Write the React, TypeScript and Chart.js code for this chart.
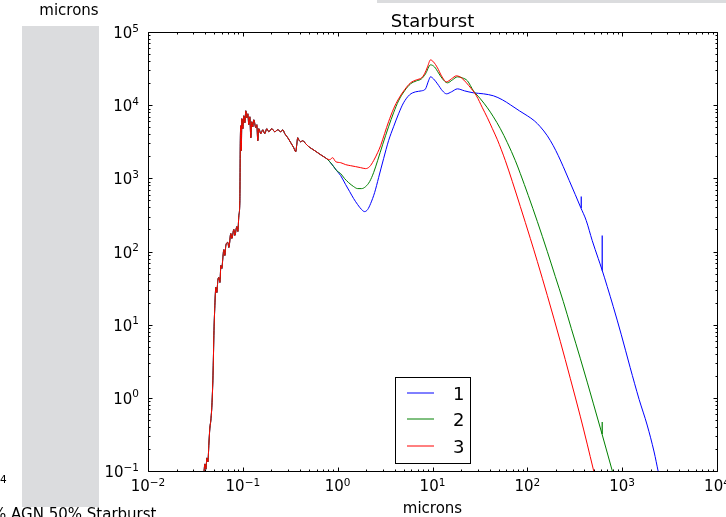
import React, { useEffect, useRef } from 'react';
import { Chart, registerables } from 'chart.js';

Chart.register(...registerables);

// Shared short-wavelength part (all three models coincide here), microns / flux
const uvWave = [
  0.0389, 0.0398, 0.0408, 0.0418, 0.0428, 0.0439, 0.0449, 0.046, 0.0472, 0.0483,
  0.0489, 0.0495, 0.0507, 0.052, 0.0532, 0.0545, 0.0559, 0.0573, 0.0587, 0.0601,
  0.0616, 0.0631, 0.0646, 0.0662, 0.0695, 0.0712, 0.0747, 0.0766, 0.0804, 0.0823,
  0.0865, 0.0886, 0.0908, 0.093, 0.0941, 0.0953, 0.0964, 0.0976, 0.1, 0.1024,
  0.105, 0.1075, 0.1102, 0.1129, 0.1156, 0.1185, 0.1214, 0.1244, 0.1274, 0.1305,
  0.137, 0.1404, 0.1438, 0.1474, 0.1547, 0.1624, 0.1704, 0.1789, 0.1878, 0.202,
  0.2172, 0.2335, 0.2512, 0.2637, 0.2768, 0.2977, 0.3201, 0.3441, 0.3613, 0.3702,
  0.3793, 0.3886, 0.4079, 0.4281, 0.4604, 0.4952, 0.5324, 0.5727, 0.6159, 0.6623,
  0.7122, 0.7659,
];
const uvFlux = [
  0.095, 0.125, 0.106, 0.151, 0.133, 0.241, 0.386, 0.496, 0.794, 1.74,
  3.27, 7.16, 18.4, 32.4, 27.5, 40.3, 44.2, 37.8, 64.5, 58.7,
  82.9, 106, 88.3, 121, 133, 113.5, 176, 151, 200, 166,
  219, 188, 310, 497, 3270, 5240, 2390, 6530, 4770, 7160,
  5750, 8380, 6730, 7620, 5400, 6930, 3590, 5930, 5070, 6310,
  4920, 5400, 3270, 4770, 4080, 4610, 4080, 4770, 4330, 4770,
  4330, 4610, 4330, 4610, 4080, 3590, 3070, 2620, 2310, 2880,
  3590, 3370, 3160, 3270, 2970, 2710, 2540, 2390, 2240, 2100,
  1977, 1857,
];

// Model 1 (blue)
const wave1 = [
  0.8238, 0.9077, 0.9761, 1.0755, 1.214, 1.338, 1.474, 1.624, 1.789, 1.923,
  2.069, 2.226, 2.453, 2.702, 3.05, 3.442, 3.886, 4.387, 4.952, 5.727,
  6.623, 7.659, 8.439, 9.075, 9.527, 10.24, 11.29, 12.74, 14.04, 15.85,
  18.33, 21.72, 27.02, 34.42, 43.87, 54.57, 66.23, 82.38, 100, 118.5,
  137, 162.4, 187.8, 212.1, 239.2, 276.8, 320.1, 365.8, 417.9, 483.3,
  559, 611.4, 695.2, 804.1, 976.1, 1214, 1510, 1834, 2172, 2393,
];
const flux1 = [
  1690, 1445, 1274, 1089, 820, 659, 529, 438, 374, 351,
  374, 452, 638, 1022, 1857, 3270, 5070, 7620, 10770, 13840,
  15210, 15700, 16710, 21500, 24390, 22900, 19560, 15700, 14290, 15210,
  16710, 15700, 14750, 14290, 13430, 11840, 10120, 8380, 7160, 6120,
  5070, 3820, 2790, 2040, 1445, 931, 600, 398, 265, 141,
  80.4, 56.9, 33.3, 17.8, 7.4, 2.6, 0.95, 0.425, 0.182, 0.1,
];

// Model 2 (green)
const wave2 = [
  0.8238, 0.9077, 0.9761, 1.0755, 1.1849, 1.3056, 1.474, 1.624, 1.789, 1.971,
  2.172, 2.393, 2.637, 2.977, 3.442, 3.886, 4.387, 5.073, 5.867, 6.785,
  7.659, 8.439, 9.527, 10.5, 11.57, 12.74, 14.38, 16.24, 18.33, 20.69,
  23.36, 27.02, 32.01, 37.92, 43.87, 51.96, 61.59, 74.75, 84.39, 102.4,
  127.5, 162.4, 197.1, 239.2, 290.5, 361.4, 428.1, 495.2, 600.8, 678.5,
  766.1, 804.1,
];
const flux2 = [
  1690, 1445, 1274, 1160, 990, 873, 771, 724, 724, 771,
  902, 1196, 1743, 2880, 5070, 7870, 11480, 15700, 19560, 21500,
  22900, 26800, 35560, 33340, 27600, 22900, 20190, 22190, 24390, 23600,
  21500, 15700, 12200, 9200, 6930, 4770, 3070, 1743, 1159, 581,
  257, 100, 45.6, 20.8, 8.91, 3.48, 1.64, 0.847, 0.352, 0.2,
  0.1135, 0.0912,
];

// Model 3 (red)
const wave3 = [
  0.8238, 0.886, 0.9527, 1.0755, 1.2138, 1.3704, 1.547, 1.7467, 1.9712, 2.172,
  2.393, 2.637, 2.836, 3.124, 3.442, 3.886, 4.387, 5.073, 5.867, 6.785,
  7.659, 8.238, 8.86, 9.527, 10.24, 11.29, 12.44, 14.04, 15.85, 17.89,
  20.2, 22.8, 25.73, 29.06, 33.6, 37.92, 42.81, 48.32, 58.67, 69.53,
  84.39, 107.5, 127.5, 162.4, 222.5, 283.6, 361.4, 428.1, 495.2, 520.4,
];
const flux3 = [
  1799, 1914, 1690, 1637, 1538, 1489, 1445, 1400, 1358, 1445,
  1743, 2240, 2790, 4080, 5930, 8920, 12200, 16200, 20190, 22190,
  23600, 26800, 33340, 41600, 39000, 32360, 25180, 20830, 22900, 25180,
  23600, 20190, 16710, 13430, 9200, 6730, 4770, 3370, 1743, 901,
  411, 151, 73.1, 25.1, 5.93, 1.85, 0.562, 0.233, 0.1066, 0.083,
];

// Narrow spikes in the model outputs: series index, wavelength, low/high flux
const spikeSeries = [0, 0, 1];
const spikeWave = [370.2, 615.9, 615.9];
const spikeLow = [392, 55, 0.32];
const spikeHigh = [563, 166, 0.466];

const seriesNames = ['1', '2', '3'];
const seriesColors = ['#0000ff', '#008000', '#ff0000'];
const xTickPowers = [-2, -1, 0, 1, 2, 3, 4];
const yTickPowers = [-1, 0, 1, 2, 3, 4, 5];
const titleText = 'Starburst';
const xAxisTitle = 'microns';
const cornerLabel = 'microns';
const bottomCaption = '50% AGN 50% Starburst';
const strayExponent = '4';

const FONT = "'DejaVu Sans', sans-serif";

function toPoints(w: number[], f: number[]) {
  return w.map((x, i) => ({ x, y: f[i] }));
}

const crisp = (v: number) => Math.round(v) + 0.5;

function drawPower(ctx: CanvasRenderingContext2D, p: number, x: number, base: number, supBase: number, align: 'center' | 'right') {
  const b = '10';
  const e = p < 0 ? '\u2212' + Math.abs(p) : String(p);
  ctx.font = `15px ${FONT}`;
  const wb = ctx.measureText(b).width;
  ctx.font = `10.5px ${FONT}`;
  const we = ctx.measureText(e).width;
  const total = wb + we;
  const x0 = align === 'center' ? x - total / 2 : x - total;
  ctx.textAlign = 'left';
  ctx.textBaseline = 'alphabetic';
  ctx.font = `15px ${FONT}`;
  ctx.fillText(b, x0, base);
  ctx.font = `10.5px ${FONT}`;
  ctx.fillText(e, x0 + wb, supBase);
}

const decorPlugin = {
  id: 'decor',
  beforeDraw(chart: any) {
    const ctx: CanvasRenderingContext2D = chart.ctx;
    ctx.save();
    ctx.fillStyle = '#ffffff';
    ctx.fillRect(0, 0, chart.width, chart.height);
    ctx.fillStyle = '#dbdcde';
    ctx.fillRect(22, 26, 77, 481);
    ctx.fillRect(377, 0, chart.width - 377, 3);
    ctx.fillStyle = '#000000';
    ctx.textBaseline = 'alphabetic';
    ctx.font = `15px ${FONT}`;
    ctx.textAlign = 'center';
    ctx.fillText(cornerLabel, 69, 15);
    ctx.textAlign = 'left';
    ctx.fillText(bottomCaption, -27, 519);
    ctx.font = `10.5px ${FONT}`;
    ctx.fillText(strayExponent, 0, 483);
    ctx.restore();
  },
  afterDraw(chart: any) {
    const ctx: CanvasRenderingContext2D = chart.ctx;
    const a = chart.chartArea;
    const xs = chart.scales.x;
    const ys = chart.scales.y;
    const L = crisp(a.left), R = crisp(a.right), T = crisp(a.top), B = crisp(a.bottom);
    ctx.save();
    ctx.strokeStyle = '#000000';
    ctx.lineWidth = 1;
    ctx.beginPath();
    ctx.rect(L, T, R - L, B - T);
    ctx.stroke();

    ctx.beginPath();
    for (let i = 0; i < xTickPowers.length; i++) {
      const p = xTickPowers[i];
      const px = crisp(xs.getPixelForValue(Math.pow(10, p)));
      ctx.moveTo(px, B); ctx.lineTo(px, B - 4);
      ctx.moveTo(px, T); ctx.lineTo(px, T + 4);
      if (i < xTickPowers.length - 1) {
        for (let m = 2; m <= 9; m++) {
          const mx = crisp(xs.getPixelForValue(m * Math.pow(10, p)));
          ctx.moveTo(mx, B); ctx.lineTo(mx, B - 2);
          ctx.moveTo(mx, T); ctx.lineTo(mx, T + 2);
        }
      }
    }
    for (let i = 0; i < yTickPowers.length; i++) {
      const p = yTickPowers[i];
      const py = crisp(ys.getPixelForValue(Math.pow(10, p)));
      ctx.moveTo(L, py); ctx.lineTo(L + 4, py);
      ctx.moveTo(R, py); ctx.lineTo(R - 4, py);
      if (i < yTickPowers.length - 1) {
        for (let m = 2; m <= 9; m++) {
          const my = crisp(ys.getPixelForValue(m * Math.pow(10, p)));
          ctx.moveTo(L, my); ctx.lineTo(L + 2, my);
          ctx.moveTo(R, my); ctx.lineTo(R - 2, my);
        }
      }
    }
    ctx.stroke();

    ctx.fillStyle = '#000000';
    for (const p of xTickPowers) {
      const px = xs.getPixelForValue(Math.pow(10, p));
      drawPower(ctx, p, px, a.bottom + 20, a.bottom + 14.5, 'center');
    }
    for (const p of yTickPowers) {
      const py = ys.getPixelForValue(Math.pow(10, p));
      drawPower(ctx, p, a.left - 9, py + 6, py - 0.5, 'right');
    }

    const cx = (a.left + a.right) / 2;
    ctx.textAlign = 'center';
    ctx.textBaseline = 'alphabetic';
    ctx.font = `18px ${FONT}`;
    ctx.fillText(titleText, cx, 27);
    ctx.font = `15px ${FONT}`;
    ctx.fillText(xAxisTitle, cx, 513);

    // legend
    const bx = 395.5, by = 377.5, bw = 75, bh = 86;
    ctx.fillStyle = '#ffffff';
    ctx.fillRect(bx, by, bw, bh);
    ctx.strokeStyle = '#000000';
    ctx.strokeRect(bx, by, bw, bh);
    const rows = [393, 419, 446];
    ctx.font = `18px ${FONT}`;
    ctx.textAlign = 'left';
    for (let i = 0; i < seriesNames.length; i++) {
      const ry = rows[i];
      ctx.strokeStyle = seriesColors[i];
      ctx.beginPath();
      ctx.moveTo(407, ry);
      ctx.lineTo(434, ry);
      ctx.stroke();
      ctx.fillStyle = '#000000';
      ctx.fillText(seriesNames[i], 453, rows[i] + 7);
    }
    ctx.restore();
  },
};

export default function App() {
  const ref = useRef<HTMLCanvasElement | null>(null);
  useEffect(() => {
    if (!ref.current) return;
    const waves = [wave1, wave2, wave3];
    const fluxes = [flux1, flux2, flux3];
    const datasets: any[] = seriesNames.map((name, i) => ({
      label: name,
      data: toPoints(uvWave.concat(waves[i]), uvFlux.concat(fluxes[i])),
      borderColor: seriesColors[i],
      backgroundColor: seriesColors[i],
      borderWidth: 1,
      pointRadius: 0,
      cubicInterpolationMode: 'monotone',
      fill: false,
      clip: 0,
      order: seriesNames.length - i + 1,
    }));
    spikeWave.forEach((w, k) => {
      const s = spikeSeries[k];
      datasets.push({
        label: seriesNames[s] + ' spike',
        data: [{ x: w, y: spikeLow[k] }, { x: w, y: spikeHigh[k] }],
        borderColor: seriesColors[s],
        backgroundColor: seriesColors[s],
        borderWidth: 1.2,
        pointRadius: 0,
        tension: 0,
        fill: false,
        clip: 0,
        order: 10,
      });
    });
    const chart = new Chart(ref.current, {
      type: 'line',
      data: { datasets },
      options: {
        animation: false,
        responsive: false,
        devicePixelRatio: 1,
        events: [],
        layout: { padding: { left: 148, right: 9, top: 32, bottom: 46 } },
        scales: {
          x: { type: 'logarithmic', min: 0.01, max: 10000, display: false },
          y: { type: 'logarithmic', min: 0.1, max: 100000, display: false },
        },
        plugins: { legend: { display: false }, tooltip: { enabled: false }, title: { display: false } },
      },
      plugins: [decorPlugin],
    } as any);
    return () => chart.destroy();
  }, []);
  return (
    <div style={{ position: 'fixed', left: 0, top: 0, width: 726, height: 517, overflow: 'hidden', background: '#fff' }}>
      <canvas ref={ref} width={726} height={517} style={{ display: 'block', width: 726, height: 517 }} />
    </div>
  );
}
